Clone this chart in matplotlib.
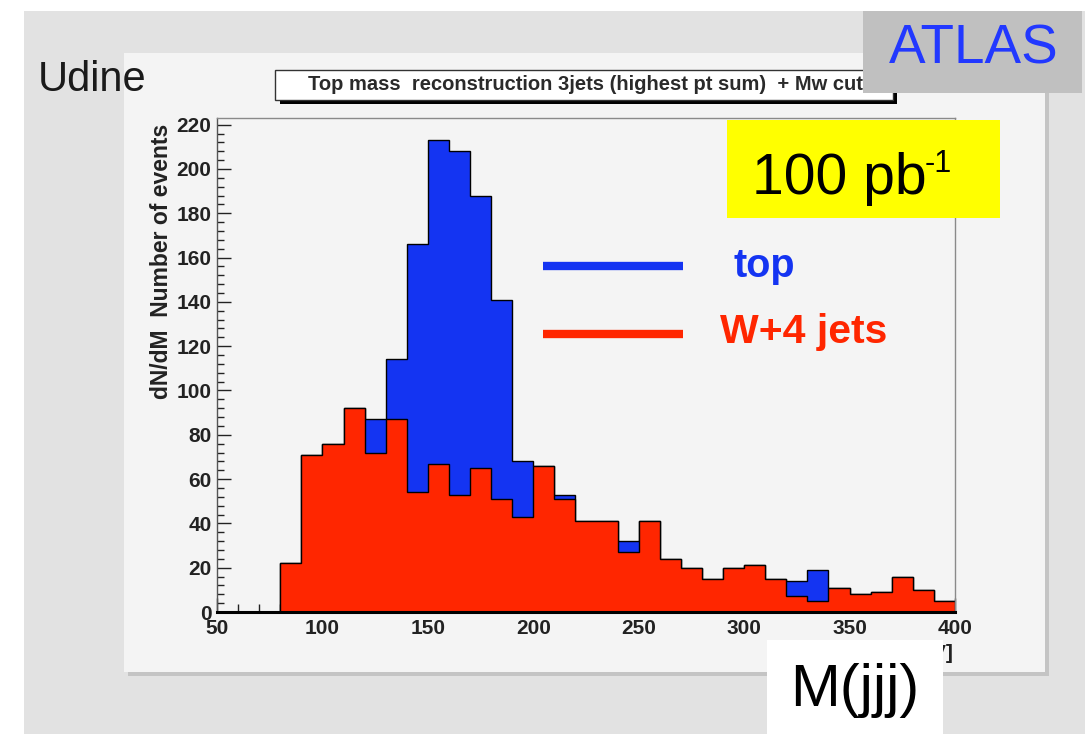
import numpy as np
import matplotlib.pyplot as plt
from matplotlib.patches import Rectangle
from matplotlib.lines import Line2D

plt.rcParams['font.family'] = ['Liberation Sans', 'DejaVu Sans']

# three-jet invariant mass, 10 GeV bins from 50 to 400
mass_edges = np.arange(50, 410, 10)
w4jets = [0, 0, 0, 22, 71, 76, 92, 72, 87, 54, 67, 53, 65, 51, 43, 66, 51, 41,
          41, 27, 41, 24, 20, 15, 20, 21, 15, 7, 5, 11, 8, 9, 16, 10, 5]
top_signal = [0, 0, 0, 0, 0, 0, 0, 15, 27, 112, 146, 155, 123, 90, 25, 0, 2, 0,
              0, 5, 0, 0, 0, 0, 0, 0, 0, 7, 14, 0, 0, 0, 0, 0, 0]
total = np.array(w4jets) + np.array(top_signal)

W, H = 1088, 734
BLUE = '#1434f2'
RED = '#ff2600'


def fx(px):
    return px / W


def fy(py):
    return 1 - py / H


def box(fig, x0, y0, x1, y1, z, **kw):
    r = Rectangle((fx(x0), fy(y1)), fx(x1) - fx(x0), fy(y0) - fy(y1),
                  transform=fig.transFigure, zorder=z, **kw)
    fig.add_artist(r)
    return r


fig = plt.figure(figsize=(W / 100, H / 100), dpi=100)
fig.patch.set_facecolor('white')

# slide background and canvas panel with its shadow
box(fig, 24, 11, 1085, 734, -5, facecolor='#e2e2e2', edgecolor='none')
box(fig, 128, 57, 1049, 676, -4, facecolor='#c4c4c4', edgecolor='none')
box(fig, 124, 53, 1045, 672, -3, facecolor='#f4f4f4', edgecolor='none')

ax = fig.add_axes([fx(217), fy(612), fx(955) - fx(217), fy(118) - fy(612)])
ax.set_facecolor('none')

# stacked histogram: top + W on the back, W+4 jets in front
ax.stairs(total, mass_edges, fill=True, color=BLUE, zorder=2)
ax.stairs(total, mass_edges, color='black', lw=1.0, zorder=3)
ax.stairs(w4jets, mass_edges, fill=True, color=RED, zorder=4)
ax.stairs(w4jets, mass_edges, color='black', lw=1.0, zorder=5)

ax.set_xlim(50, 400)
ax.set_ylim(0, 223)
ax.set_xticks(np.arange(50, 401, 50))
ax.set_xticks(np.arange(50, 401, 10), minor=True)
ax.set_yticks(np.arange(0, 221, 20))
ax.set_yticks(np.arange(0, 221, 4), minor=True)
ax.tick_params(which='both', direction='in', color='#222222', width=1)
ax.tick_params(axis='y', which='major', length=10, pad=4)
ax.tick_params(axis='y', which='minor', length=5)
ax.tick_params(axis='x', which='major', length=10, pad=5)
ax.tick_params(axis='x', which='minor', length=6)
for lab in ax.get_xticklabels() + ax.get_yticklabels():
    lab.set_fontweight('bold')
    lab.set_fontsize(15)
    lab.set_color('#222222')

ax.spines['bottom'].set_linewidth(2.2)
ax.spines['bottom'].set_color('black')
ax.spines['left'].set_linewidth(1.0)
ax.spines['left'].set_color('#555555')
for s in ('top', 'right'):
    ax.spines[s].set_linewidth(1.0)
    ax.spines[s].set_color('#8a8a8a')
for s in ax.spines.values():
    s.set_zorder(6)

fig.text(fx(161), fy(124), 'dN/dM  Number of events', rotation=90,
         ha='center', va='top', fontsize=16.5, fontweight='bold', color='#222222')
fig.text(fx(953), fy(644), 'M [GeV]', ha='right', va='top',
         fontsize=15, fontweight='bold', color='#222222', zorder=1.5)

# histogram title box with ROOT-style shadow
box(fig, 280, 74, 897, 104, 1, facecolor='black', edgecolor='none')
box(fig, 275, 70, 893, 100, 1.1, facecolor='white', edgecolor='#333333', lw=1)
fig.text(fx(585), fy(85), 'Top mass  reconstruction 3jets (highest pt sum)  + Mw cut',
         ha='center', va='center', fontsize=14.5, fontweight='bold',
         color='#2a2a2a', zorder=2)

# ATLAS tag
box(fig, 863, 11, 1082, 93, 3, facecolor='#c0c0c0', edgecolor='none')
fig.text(fx(974), fy(50), 'ATLAS', ha='center', va='center', fontsize=39.5,
         color='#2238ff', zorder=4)

fig.text(fx(38), fy(80), 'Udine', ha='left', va='center', fontsize=30,
         color='#1a1a1a', zorder=4)

# luminosity label
box(fig, 727, 120, 1000, 218, 3, facecolor='#ffff00', edgecolor='none')
fig.text(fx(752), fy(194), '100 pb', ha='left', va='baseline',
         fontsize=41, color='black', zorder=4)
fig.text(fx(925), fy(172), '-1', ha='left', va='baseline',
         fontsize=22, color='black', zorder=4)

# hand-drawn legend
fig.add_artist(Line2D([fx(543), fx(683)], [fy(266), fy(266)], color=BLUE, lw=6,
                      solid_capstyle='butt', transform=fig.transFigure, zorder=4))
fig.add_artist(Line2D([fx(543), fx(683)], [fy(334), fy(334)], color=RED, lw=6,
                      solid_capstyle='butt', transform=fig.transFigure, zorder=4))
fig.text(fx(733), fy(266), 'top', ha='left', va='center', fontsize=28.5,
         fontweight='bold', color=BLUE, zorder=4)
fig.text(fx(720), fy(332), 'W+4 jets', ha='left', va='center', fontsize=29.5,
         fontweight='bold', color=RED, zorder=4)

# axis variable box
box(fig, 767, 640, 943, 734, 3, facecolor='white', edgecolor='none')
fig.text(fx(855), fy(690), 'M(jjj)', ha='center', va='center', fontsize=43,
         color='black', zorder=4)

fig.savefig('out.png', dpi=100)
